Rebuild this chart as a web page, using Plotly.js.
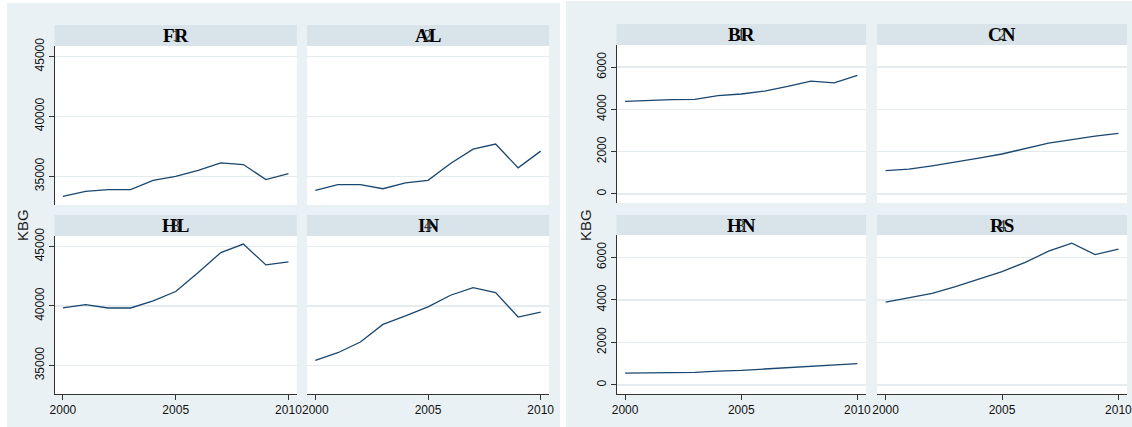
<!DOCTYPE html>
<html><head><meta charset="utf-8">
<script src="https://cdn.plot.ly/plotly-3.0.1.min.js"></script>
<style>html,body{margin:0;padding:0;background:#fff}</style>
</head><body><div id="chart" style="width:1132px;height:427px"></div>
<script>
// ---- data ----
const years = [2000, 2001, 2002, 2003, 2004, 2005, 2006, 2007, 2008, 2009, 2010];
const panelNames = ["FR", "AL", "HL", "IN", "BR", "CN", "HN", "RS"];
const panelDigits = ["1", "2", "3", "4", "1", "2", "3", "4"];
const fr  = [33320, 33740, 33880, 33880, 34660, 35000, 35500, 36120, 35980, 34720, 35220];
const al  = [33820, 34300, 34300, 33960, 34440, 34660, 36060, 37270, 37690, 35700, 37100];
const hl  = [39830, 40110, 39830, 39830, 40420, 41210, 42810, 44490, 45200, 43450, 43710];
const inn = [35420, 36070, 36970, 38450, 39160, 39920, 40900, 41540, 41120, 39070, 39490];
const br  = [4385, 4430, 4460, 4480, 4650, 4730, 4870, 5090, 5340, 5260, 5610];
const cn  = [1100, 1170, 1330, 1500, 1690, 1890, 2130, 2400, 2570, 2740, 2870];
const hn  = [555, 555, 555, 590, 650, 680, 745, 810, 860, 920, 1000];
const rs  = [3890, 4090, 4300, 4620, 4970, 5330, 5760, 6290, 6670, 6130, 6380];
const series = [fr, al, hl, inn, br, cn, hn, rs];
const xTicks = [2000, 2005, 2010];
const xTickText = ["2000", "2005", "2010"];
const yTicksLeft = [35000, 40000, 45000];
const yTickTextLeft = ["35000", "40000", "45000"];
const yTicksRight = [0, 2000, 4000, 6000];
const yTickTextRight = ["0", "2000", "4000", "6000"];
const yTitle = "KBG";

// ---- layout geometry (pixels) ----
const W = 1132, H = 427;
const fx = p => p / W, fy = p => 1 - p / H;
// [x0, x1, stripTop, plotTop, plotBottom, leftCol, bottomRow, graph]
const geo = [
  [54.6, 296.8, 25, 46, 205, true, false, 0],
  [307, 549, 25, 46, 205, false, false, 0],
  [54.6, 296.8, 215, 236, 394, true, true, 0],
  [307, 549, 215, 236, 394, false, true, 0],
  [616.5, 866, 24, 45, 203, true, false, 1],
  [877, 1127, 24, 45, 203, false, false, 1],
  [616.5, 866, 215, 235, 394, true, true, 1],
  [877, 1127, 215, 235, 394, false, true, 1]
];
const yRanges = [[32600, 45880], [-430, 7050]];
const xRange = [1999.63, 2010.37];

const bg = '#EAF1F4', strip = '#D8E3EA', lineCol = '#1A476F', gridCol = '#E4ECF0', axCol = '#333';
const layout = {
  width: W, height: H, margin: {l: 0, r: 0, t: 0, b: 0},
  paper_bgcolor: '#fff', plot_bgcolor: 'rgba(0,0,0,0)', showlegend: false,
  shapes: [], annotations: []
};
// graph regions
layout.shapes.push({type: 'rect', xref: 'paper', yref: 'paper', x0: fx(7), x1: fx(560), y0: fy(427), y1: fy(3), fillcolor: bg, line: {width: 0}, layer: 'below'});
layout.shapes.push({type: 'rect', xref: 'paper', yref: 'paper', x0: fx(566), x1: fx(1132), y0: fy(427), y1: fy(1), fillcolor: bg, line: {width: 0}, layer: 'below'});

const traces = [];
geo.forEach((g, i) => {
  const [x0, x1, st, pt, pb, leftCol, bottomRow, gi] = g;
  const n = i + 1;
  const xa = 'xaxis' + (n === 1 ? '' : n), ya = 'yaxis' + (n === 1 ? '' : n);
  const xr = 'x' + (n === 1 ? '' : n), yr = 'y' + (n === 1 ? '' : n);
  layout[xa] = {
    domain: [fx(x0), fx(x1)], range: xRange, anchor: yr, showgrid: false, zeroline: false,
    tickmode: 'array', tickvals: xTicks, ticktext: xTickText, showticklabels: bottomRow,
    ticks: bottomRow ? 'outside' : '', ticklen: 5, ticklabeloverflow: 'allow',
    tickcolor: axCol, showline: bottomRow, linecolor: axCol, linewidth: 1,
    tickfont: {family: 'Liberation Sans, Arial, sans-serif', size: 12, color: '#111'}
  };
  layout[ya] = {
    domain: [fy(pb), fy(pt)], range: yRanges[gi], anchor: xr, showgrid: true, gridcolor: gridCol, gridwidth: 1.5,
    zeroline: false, tickmode: 'array', tickvals: gi === 0 ? yTicksLeft : yTicksRight,
    ticktext: gi === 0 ? yTickTextLeft : yTickTextRight, showticklabels: leftCol,
    ticks: leftCol ? 'outside' : '', ticklen: 5, tickcolor: axCol, showline: leftCol, linecolor: axCol, linewidth: 1,
    ticklabeloverflow: 'allow',
    tickangle: -90, tickfont: {family: 'Liberation Sans, Arial, sans-serif', size: 12, color: '#111'}
  };
  // white plot area
  layout.shapes.push({type: 'rect', xref: 'paper', yref: 'paper', x0: fx(x0), x1: fx(x1), y0: fy(pb), y1: fy(pt), fillcolor: '#fff', line: {width: 0}, layer: 'below'});
  // strip
  layout.shapes.push({type: 'rect', xref: 'paper', yref: 'paper', x0: fx(x0), x1: fx(x1), y0: fy(pt), y1: fy(st), fillcolor: strip, line: {width: 0}, layer: 'below'});
  const cx = fx((x0 + x1) / 2), cy = fy((st + pt) / 2);
  layout.annotations.push({xref: 'paper', yref: 'paper', x: cx, y: cy, xanchor: 'center', yanchor: 'middle', showarrow: false,
    text: '<b>' + panelNames[i] + '</b>', font: {family: 'Liberation Serif, Times New Roman, serif', size: 19, color: '#000'}});
  layout.annotations.push({xref: 'paper', yref: 'paper', x: cx, y: cy, xanchor: 'center', yanchor: 'middle', showarrow: false,
    text: panelDigits[i], font: {family: 'Liberation Serif, Times New Roman, serif', size: 16, color: '#333'}});
  traces.push({type: 'scatter', mode: 'lines', x: years, y: series[i], xaxis: xr, yaxis: yr,
    line: {color: lineCol, width: 1.3}, hoverinfo: 'skip'});
});
// y titles
[[22, 225], [585, 225]].forEach(p => {
  layout.annotations.push({xref: 'paper', yref: 'paper', x: fx(p[0]), y: fy(p[1]), xanchor: 'center', yanchor: 'middle', showarrow: false,
    textangle: -90, text: yTitle, font: {family: 'Liberation Sans, Arial, sans-serif', size: 15, color: '#222'}});
});
Plotly.newPlot('chart', traces, layout, {staticPlot: true, displayModeBar: false});
</script></body></html>
